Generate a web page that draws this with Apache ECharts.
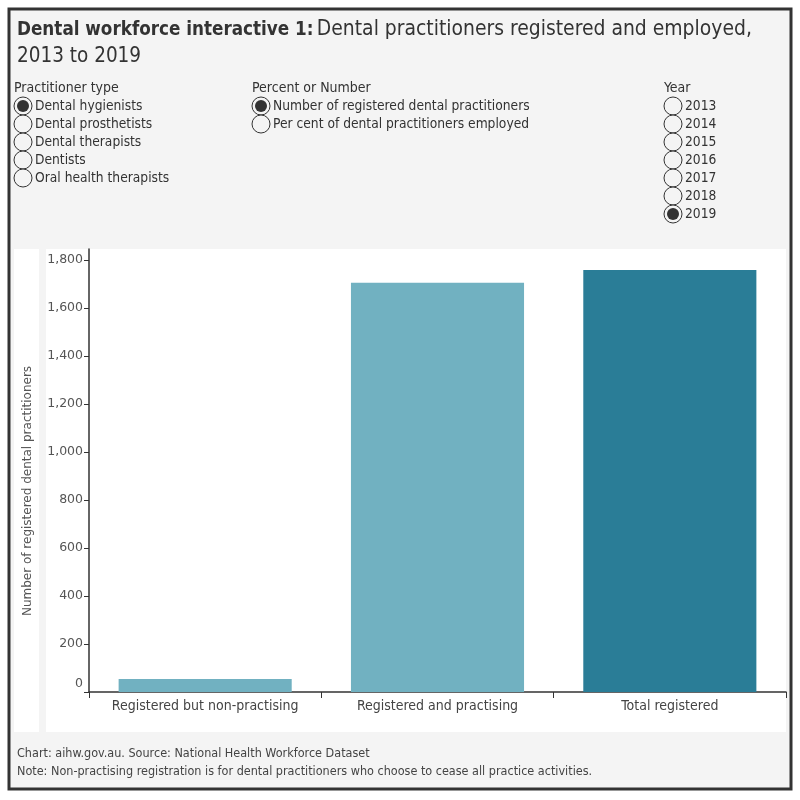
<!DOCTYPE html>
<html>
<head>
<meta charset="utf-8">
<script src="https://cdn.jsdelivr.net/npm/echarts@6/dist/echarts.min.js"></script>
<style>
html,body{margin:0;padding:0;background:#fff;}
#c{width:800px;height:800px;}
</style>
</head>
<body>
<div id="c"></div>
<script>
const categories = ['Registered but non-practising', 'Registered and practising', 'Total registered'];
const values = [54, 1704, 1758];
const barColors = ['#71b1c1', '#71b1c1', '#2a7d97'];
const yTicks = [0, 200, 400, 600, 800, 1000, 1200, 1400, 1600, 1800];
const practitionerTypes = ['Dental hygienists', 'Dental prosthetists', 'Dental therapists', 'Dentists', 'Oral health therapists'];
const measureOptions = ['Number of registered dental practitioners', 'Per cent of dental practitioners employed'];
const years = ['2013', '2014', '2015', '2016', '2017', '2018', '2019'];
const selectedType = 'Dental hygienists';
const selectedMeasure = 'Number of registered dental practitioners';
const selectedYear = '2019';

const NARROW = "'Liberation Sans Narrow', 'DejaVu Sans Condensed', 'Roboto', sans-serif";
const WIDE = "'DejaVu Sans', Verdana, sans-serif";

function radioGroup(title, items, selected, x, y) {
  const els = [{
    type: 'text', x: x, y: y,
    style: { text: title, font: "14px " + NARROW, fill: '#333', verticalAlign: 'middle' }
  }];
  items.forEach((it, i) => {
    const cy = y + 18 + i * 18;
    els.push({ type: 'circle', shape: { cx: x + 9, cy: cy, r: 9 },
      style: { fill: '#f4f4f4', stroke: '#333', lineWidth: 1 } });
    if (it === selected) {
      els.push({ type: 'circle', shape: { cx: x + 9, cy: cy, r: 6 },
        style: { fill: '#333' } });
    }
    els.push({ type: 'text', x: x + 21, y: cy,
      style: { text: it, font: "13.7px " + NARROW, fill: '#333', verticalAlign: 'middle' } });
  });
  return els;
}

const chart = echarts.init(document.getElementById('c'));
const graphics = [
  { type: 'rect', shape: { x: 9, y: 9, width: 782, height: 780 },
    style: { fill: '#f4f4f4', stroke: '#333', lineWidth: 3 }, z: -10 },
  { type: 'rect', shape: { x: 14, y: 249, width: 25, height: 483 }, style: { fill: '#fff' }, z: -9 },
  { type: 'rect', shape: { x: 46, y: 249, width: 740, height: 483 }, style: { fill: '#fff' }, z: -9 },
  { type: 'text', x: 17, y: 30,
    style: { text: '{b|Dental workforce interactive 1:} {r|Dental practitioners registered and employed,}',
      verticalAlign: 'middle',
      rich: { b: { font: "bold 18.7px " + NARROW, fill: '#333' }, r: { font: "20.9px " + NARROW, fill: '#333' } } } },
  { type: 'text', x: 17, y: 57,
    style: { text: '2013 to 2019', font: "20.5px " + NARROW, fill: '#333', verticalAlign: 'middle' } },
  { type: 'text', x: 28, y: 491, rotation: Math.PI / 2,
    style: { text: 'Number of registered dental practitioners', font: "12px " + WIDE, fill: '#555',
      align: 'center', verticalAlign: 'middle' } },
  { type: 'text', x: 17, y: 754,
    style: { text: 'Chart: aihw.gov.au. Source: National Health Workforce Dataset', font: "12.5px " + NARROW, fill: '#444', verticalAlign: 'middle' } },
  { type: 'text', x: 17, y: 772,
    style: { text: 'Note: Non-practising registration is for dental practitioners who choose to cease all practice activities.', font: "12.5px " + NARROW, fill: '#444', verticalAlign: 'middle' } }
].concat(
  radioGroup('Practitioner type', practitionerTypes, selectedType, 14, 88),
  radioGroup('Percent or Number', measureOptions, selectedMeasure, 252, 88),
  radioGroup('Year', years, selectedYear, 664, 88)
);

chart.setOption({
  animation: false,
  backgroundColor: '#fff',
  graphic: graphics,
  grid: { left: 89, right: 14, top: 249, bottom: 108 },
  xAxis: {
    type: 'category', data: categories,
    axisLine: { lineStyle: { color: '#333', width: 1.5 } },
    axisTick: { show: true, interval: 0, length: 6, lineStyle: { color: '#333' } },
    axisLabel: { interval: 0, hideOverlap: false, fontFamily: NARROW, fontSize: 14, color: '#444', margin: 7 }
  },
  yAxis: {
    type: 'value', min: 0, max: 1845, interval: 200,
    axisLine: { show: true, lineStyle: { color: '#333', width: 1.5 } },
    axisTick: { show: true, length: 5, lineStyle: { color: '#333' }, customValues: yTicks },
    splitLine: { show: false },
    axisLabel: { fontFamily: WIDE, fontSize: 12.5, color: '#555', margin: 6, customValues: yTicks,
      formatter: v => v === 0 ? '{z|0}' : v.toLocaleString('en-US'),
      rich: { z: { fontFamily: WIDE, fontSize: 12.5, color: '#555', padding: [0, 0, 16, 0] } } }
  },
  series: [{
    type: 'bar', barCategoryGap: '25.5%',
    data: values.map((v, i) => ({ value: v, itemStyle: { color: barColors[i] } }))
  }]
});
</script>
</body>
</html>
